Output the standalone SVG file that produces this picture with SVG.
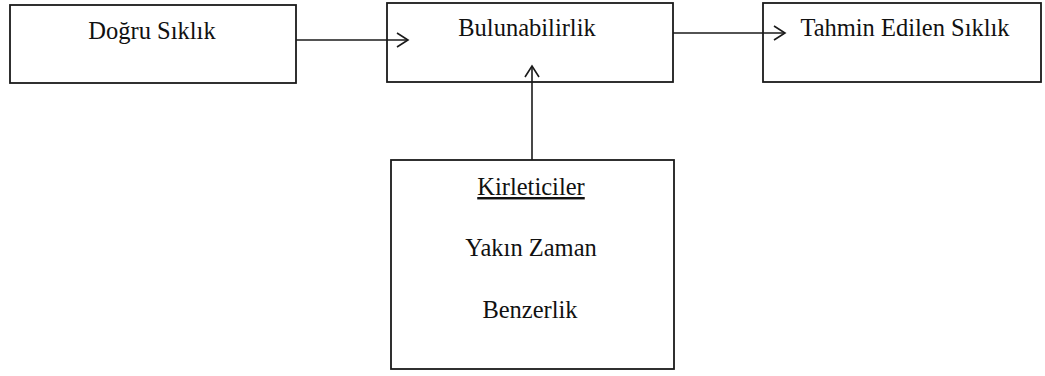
<svg xmlns="http://www.w3.org/2000/svg" width="1045" height="376" viewBox="0 0 1045 376">
<style>
.box{fill:#fff;stroke:#1a1a1a;stroke-width:1.8}
.t{font-family:"Liberation Serif","Times New Roman",serif;font-size:24.5px;fill:#111;text-anchor:middle}
.c{fill:none;stroke:#1a1a1a;stroke-width:1.6}
</style>
<defs>
<marker id="ah" markerWidth="14" markerHeight="18" refX="12" refY="8" orient="auto" markerUnits="userSpaceOnUse">
<path d="M1,1 L12,8 L1,15" fill="none" stroke="#1a1a1a" stroke-width="1.6"/>
</marker>
</defs>
<rect width="1045" height="376" fill="#fff"/>
<g id="n1"><rect class="box" x="10" y="5" width="286" height="78"/><text class="t" x="152" y="39">Doğru Sıklık</text></g>
<g id="n2"><rect class="box" x="387" y="3" width="286" height="79"/><text class="t" x="527" y="36">Bulunabilirlik</text></g>
<g id="n3"><rect class="box" x="763" y="3" width="278" height="79"/><text class="t" x="905" y="36">Tahmin Edilen Sıklık</text></g>
<g id="n4"><rect class="box" x="391" y="160" width="283" height="209"/>
<text class="t" x="531" y="195" text-decoration="underline">Kirleticiler</text>
<text class="t" x="531" y="256">Yakın Zaman</text>
<text class="t" x="530" y="318">Benzerlik</text></g>
<g id="connectors">
<line class="c" x1="296" y1="40" x2="408" y2="40" marker-end="url(#ah)"/>
<line class="c" x1="673" y1="33" x2="785" y2="33" marker-end="url(#ah)"/>
<line class="c" x1="532" y1="160" x2="532" y2="66" marker-end="url(#ah)"/>
</g>
</svg>
